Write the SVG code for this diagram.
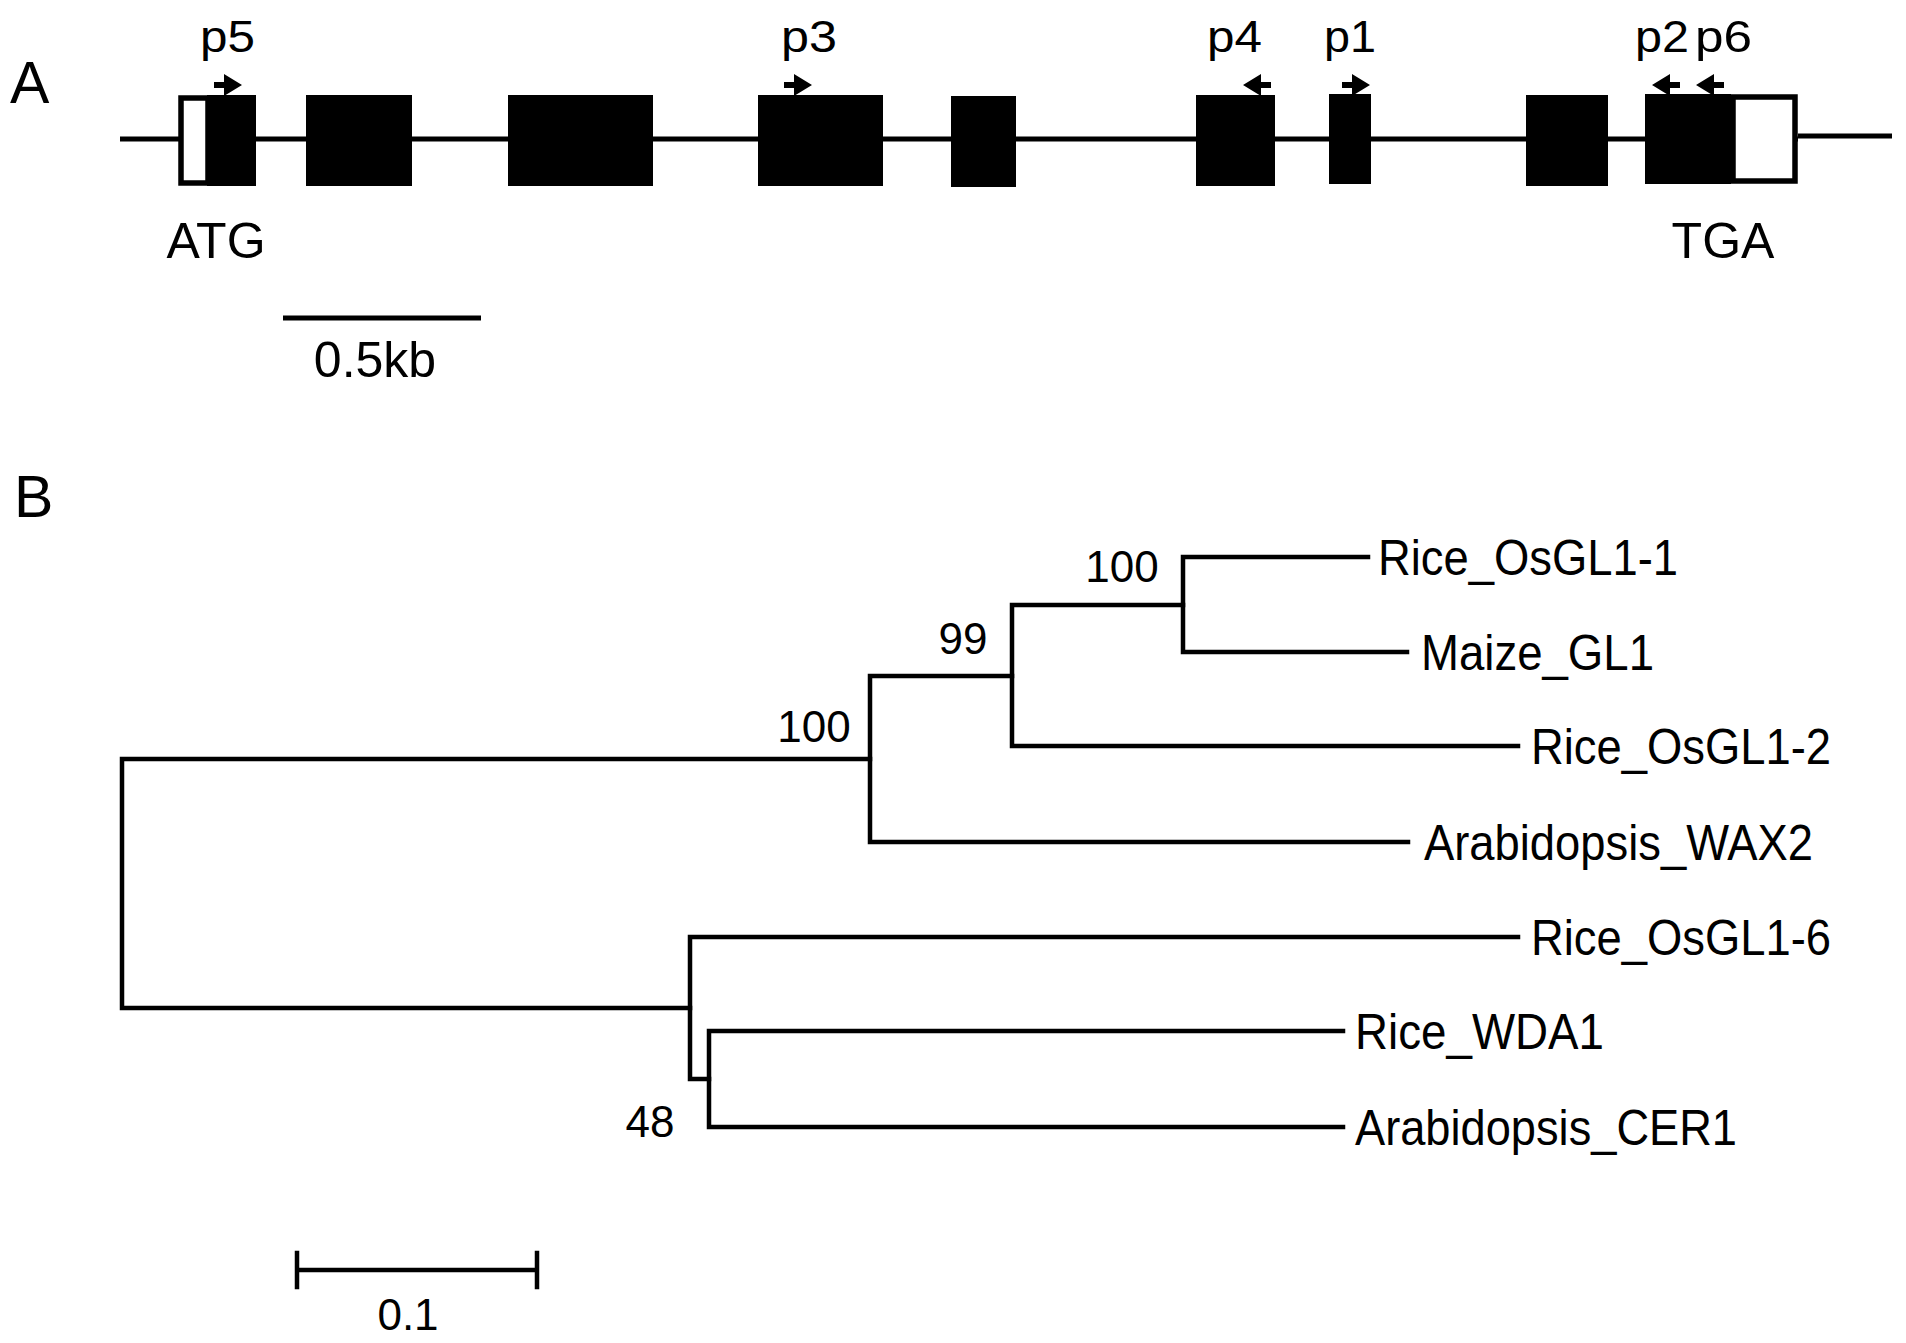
<svg xmlns="http://www.w3.org/2000/svg" width="1906" height="1343" viewBox="0 0 1906 1343">
<defs>
<style>
text{font-family:"Liberation Sans",Arial,sans-serif;fill:#000}
.panel{font-size:59px}
.lbl{font-size:50px}
.pl{font-size:45px}
.bs{font-size:44px}
.leaf{font-size:50px}
.ln{stroke:#000;stroke-width:5;fill:none}
.tr{stroke:#000;stroke-width:4.5;fill:none;stroke-linecap:square}
.ex{fill:#000}
.utr{fill:#fff;stroke:#000;stroke-width:5.5}
</style>
<path id="arR" d="M-14,-3 H-4 V-11 L14,0 L-4,11 V3 H-14 Z"/>
<path id="arL" d="M14,-3 H4 V-11 L-14,0 L4,11 V3 H14 Z"/>
</defs>
<rect width="1906" height="1343" fill="#fff"/>
<text class="panel" x="10" y="103">A</text>
<text class="panel" x="14" y="517">B</text>

<g id="gene">
<line class="ln" x1="120" y1="139" x2="1798" y2="139"/>
<line class="ln" x1="1798" y1="136" x2="1892" y2="136"/>
<g id="exon1"><rect class="utr" x="181" y="98" width="27" height="85"/><rect class="ex" x="207" y="95" width="49" height="91"/></g>
<g id="exon2"><rect class="ex" x="306" y="95" width="106" height="91"/></g>
<g id="exon3"><rect class="ex" x="508" y="95" width="145" height="91"/></g>
<g id="exon4"><rect class="ex" x="758" y="95" width="125" height="91"/></g>
<g id="exon5"><rect class="ex" x="951" y="96" width="65" height="91"/></g>
<g id="exon6"><rect class="ex" x="1196" y="95" width="79" height="91"/></g>
<g id="exon7"><rect class="ex" x="1329" y="94" width="42" height="90"/></g>
<g id="exon8"><rect class="ex" x="1526" y="95" width="82" height="91"/></g>
<g id="exon9"><rect class="ex" x="1645" y="94" width="86" height="90"/><rect class="utr" x="1733" y="97" width="62" height="84"/></g>
</g>

<g id="primers">
<g id="p5"><use href="#arR" x="228" y="85"/><text class="pl" x="200" y="52" textLength="55" lengthAdjust="spacingAndGlyphs">p5</text></g>
<g id="p3"><use href="#arR" x="798" y="85"/><text class="pl" x="781" y="52" textLength="56" lengthAdjust="spacingAndGlyphs">p3</text></g>
<g id="p4"><use href="#arL" x="1257" y="85"/><text class="pl" x="1207" y="52" textLength="55" lengthAdjust="spacingAndGlyphs">p4</text></g>
<g id="p1"><use href="#arR" x="1356" y="85"/><text class="pl" x="1324" y="52" textLength="52" lengthAdjust="spacingAndGlyphs">p1</text></g>
<g id="p2"><use href="#arL" x="1666" y="85"/><text class="pl" x="1635" y="52" textLength="54" lengthAdjust="spacingAndGlyphs">p2</text></g>
<g id="p6"><use href="#arL" x="1710" y="85"/><text class="pl" x="1695" y="52" textLength="57" lengthAdjust="spacingAndGlyphs">p6</text></g>
</g>

<text class="lbl" x="216" y="258" text-anchor="middle">ATG</text>
<text class="lbl" x="1723" y="258" text-anchor="middle">TGA</text>

<g id="scaleA">
<line class="ln" x1="283" y1="318" x2="481" y2="318" stroke-width="6"/>
<text class="lbl" x="375" y="377" text-anchor="middle">0.5kb</text>
</g>

<g id="connectors">
<path class="tr" d="M870,759 H122 V1008 H690"/>
<path class="tr" d="M1012,676 H870 V842 H1408"/>
<path class="tr" d="M1183,605 H1012 V746 H1518"/>
<path class="tr" d="M1368,557 H1183 V652 H1407"/>
<path class="tr" d="M709,1079 H690 V937 H1518"/>
<path class="tr" d="M1343,1031 H709 V1127 H1343"/>
</g>

<g id="nodeA"><text class="bs" x="814" y="742" text-anchor="middle">100</text></g>
<g id="nodeB"><text class="bs" x="963" y="654" text-anchor="middle">99</text></g>
<g id="nodeE"><text class="bs" x="1122" y="582" text-anchor="middle">100</text></g>
<g id="nodeD"><text class="bs" x="650" y="1137" text-anchor="middle">48</text></g>

<g id="leaf1"><text class="leaf" x="1378" y="575" textLength="300" lengthAdjust="spacingAndGlyphs">Rice_OsGL1-1</text></g>
<g id="leaf2"><text class="leaf" x="1421" y="670" textLength="233" lengthAdjust="spacingAndGlyphs">Maize_GL1</text></g>
<g id="leaf3"><text class="leaf" x="1531" y="764" textLength="300" lengthAdjust="spacingAndGlyphs">Rice_OsGL1-2</text></g>
<g id="leaf4"><text class="leaf" x="1424" y="860" textLength="389" lengthAdjust="spacingAndGlyphs">Arabidopsis_WAX2</text></g>
<g id="leaf5"><text class="leaf" x="1531" y="955" textLength="300" lengthAdjust="spacingAndGlyphs">Rice_OsGL1-6</text></g>
<g id="leaf6"><text class="leaf" x="1355" y="1049" textLength="249" lengthAdjust="spacingAndGlyphs">Rice_WDA1</text></g>
<g id="leaf7"><text class="leaf" x="1355" y="1145" textLength="382" lengthAdjust="spacingAndGlyphs">Arabidopsis_CER1</text></g>

<g id="scaleB">
<path class="tr" d="M297,1270 H537 M297,1253 V1287 M537,1253 V1287" stroke-linecap="butt"/>
<text class="bs" x="408" y="1330" text-anchor="middle">0.1</text>
</g>
</svg>
